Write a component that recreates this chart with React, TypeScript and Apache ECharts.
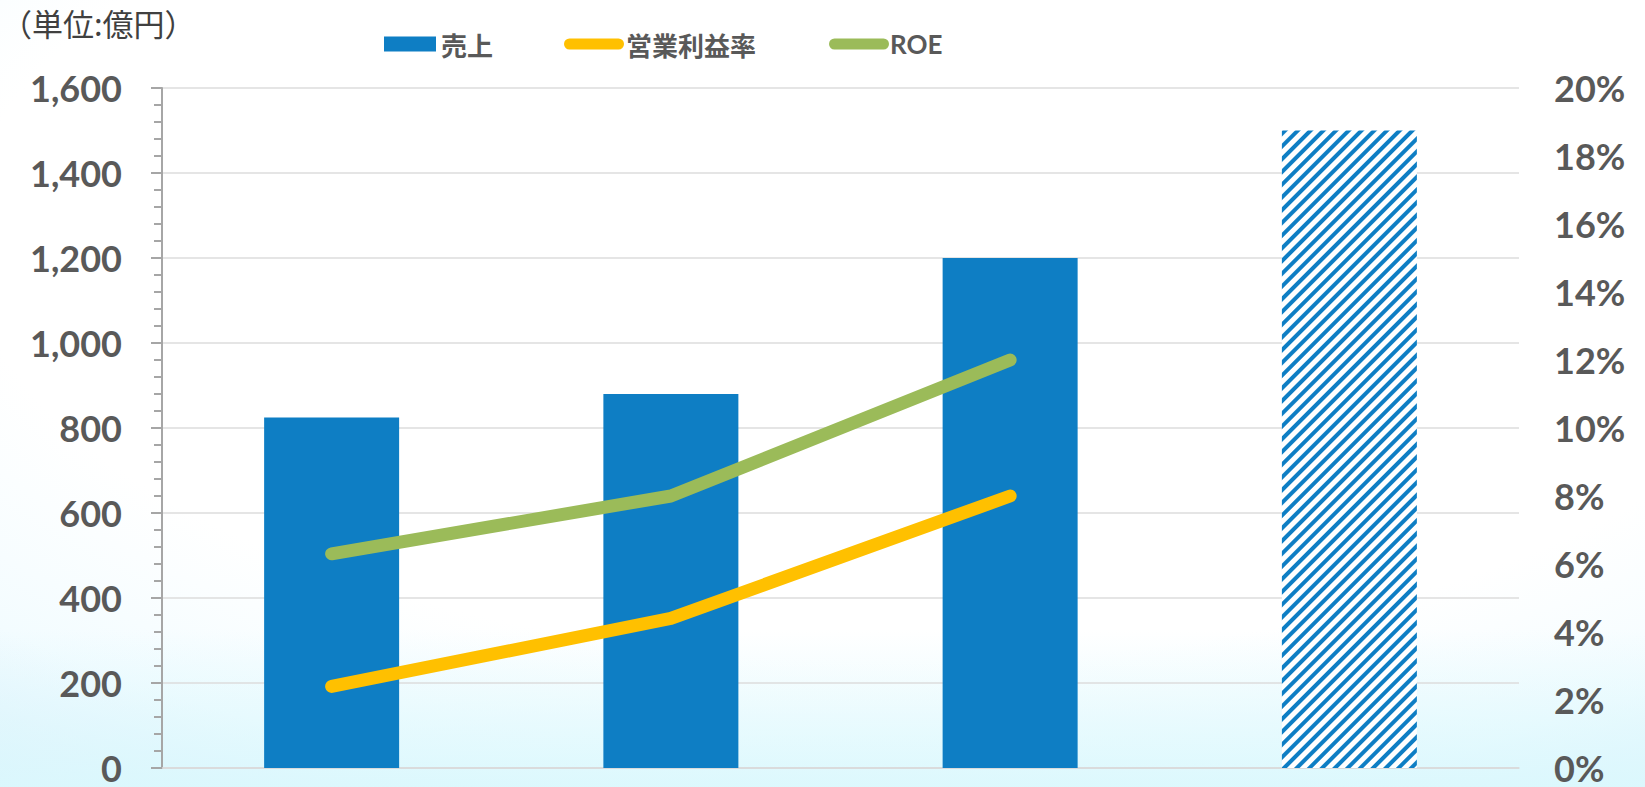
import React, { useEffect, useRef } from "react";
import * as echarts from "echarts";

const categories = ["1", "2", "3", "4"];
const salesValues = [825, 880, 1200, 1500];
const forecastFlags = [false, false, false, true];
const marginValues: (number | null)[] = [2.4, 4.4, 8.0, null];
const roeValues: (number | null)[] = [6.3, 8.0, 12.0, null];
const leftTicks = { min: 0, max: 1600, interval: 200 };
const rightTicks = { min: 0, max: 20, interval: 2 };
const seriesNames = ["売上", "営業利益率", "ROE"];
const unitLabel = "（単位:億円）";

const BLUE = "#0E7EC4";
const YELLOW = "#FFC000";
const GREEN = "#9BBB59";
const TEXT = "#595959";
const LATIN = "Lato, 'Noto Sans CJK JP', sans-serif";
const CJK = "'Noto Sans CJK JP', Lato, sans-serif";

const capsule = "path://M5.5,0 L54.5,0 A5.5,5.5 0 0 1 54.5,11 L5.5,11 A5.5,5.5 0 0 1 5.5,0 Z";

export default function App() {
  const ref = useRef<HTMLDivElement>(null);
  useEffect(() => {
    if (!ref.current) return;
    const chart = echarts.init(ref.current, undefined, { renderer: "svg" });
    const legendText = {
      color: TEXT,
      fontSize: 26,
      fontWeight: "bold" as const,
      fontFamily: CJK,
      lineHeight: 28,
    };
    chart.setOption({
      animation: false,
      backgroundColor: "transparent",
      title: {
        text: unitLabel,
        left: -4,
        top: 2,
        textStyle: { color: "#404040", fontSize: 31, fontWeight: "normal", fontFamily: CJK },
      },
      legend: [
        {
          data: [{ name: seriesNames[0], icon: "rect" }],
          left: 379,
          top: 25,
          itemWidth: 52,
          itemHeight: 15,
          itemGap: 0,
          textStyle: { ...legendText, padding: [0, 0, 0, 0] },
        },
        {
          data: [{ name: seriesNames[1], icon: capsule }],
          left: 559,
          top: 25,
          itemWidth: 60,
          itemHeight: 11,
          itemStyle: { color: YELLOW },
          textStyle: { ...legendText, padding: [0, 0, 0, -3] },
        },
        {
          data: [{ name: seriesNames[2], icon: capsule }],
          left: 824,
          top: 25,
          itemWidth: 60,
          itemHeight: 11,
          itemStyle: { color: GREEN },
          textStyle: { ...legendText, fontFamily: LATIN, padding: [0, 0, 0, -4] },
        },
      ],
      grid: { left: 162, right: 126, top: 88, bottom: 19, containLabel: false },
      xAxis: {
        type: "category",
        data: categories,
        axisLine: { show: true, lineStyle: { color: "#d9d9d9", width: 1.5 } },
        axisTick: { show: false },
        axisLabel: { show: false },
        splitLine: { show: false },
      },
      yAxis: [
        {
          type: "value",
          min: leftTicks.min,
          max: leftTicks.max,
          interval: leftTicks.interval,
          axisLine: { show: true, lineStyle: { color: "#a6a6a6", width: 2 } },
          axisTick: { show: true, inside: false, length: 11, lineStyle: { color: "#a6a6a6", width: 2 } },
          minorTick: { show: true, splitNumber: 5, length: 8, lineStyle: { color: "#a6a6a6", width: 2 } },
          axisLabel: {
            margin: 40,
            color: TEXT,
            fontSize: 36,
            lineHeight: 26,
            fontWeight: "bold",
            fontFamily: LATIN,
            formatter: (v: number) => v.toLocaleString("en-US"),
          },
          splitLine: { show: true, lineStyle: { color: "#dcdcdc", width: 1.5 } },
        },
        {
          type: "value",
          min: rightTicks.min,
          max: rightTicks.max,
          interval: rightTicks.interval,
          position: "right",
          axisLine: { show: false },
          axisTick: { show: false },
          axisLabel: {
            margin: 35,
            color: TEXT,
            fontSize: 36,
            lineHeight: 26,
            fontWeight: "bold",
            fontFamily: LATIN,
            formatter: (v: number) => v + "%",
          },
          splitLine: { show: false },
        },
      ],
      series: [
        {
          name: seriesNames[0],
          type: "bar",
          barWidth: 135,
          itemStyle: { color: BLUE },
          data: salesValues.map((v, i) =>
            forecastFlags[i]
              ? {
                  value: v,
                  itemStyle: {
                    color: "#ffffff",
                    decal: {
                      symbol: "rect",
                      symbolSize: 1,
                      color: BLUE,
                      backgroundColor: "#ffffff",
                      dashArrayX: [1, 0],
                      dashArrayY: [4, 4.5],
                      rotation: -Math.PI / 4,
                    },
                  },
                }
              : v
          ),
          z: 2,
        },
        {
          name: seriesNames[1],
          type: "line",
          yAxisIndex: 1,
          data: marginValues,
          symbol: "none",
          lineStyle: { color: YELLOW, width: 13, cap: "round", join: "round" },
          itemStyle: { color: YELLOW },
          z: 3,
        },
        {
          name: seriesNames[2],
          type: "line",
          yAxisIndex: 1,
          data: roeValues,
          symbol: "none",
          lineStyle: { color: GREEN, width: 13, cap: "round", join: "round" },
          itemStyle: { color: GREEN },
          z: 3,
        },
      ],
    });
    return () => chart.dispose();
  }, []);
  return (
    <div
      style={{
        position: "absolute",
        left: 0,
        top: 0,
        width: 1645,
        height: 787,
        background:
          "linear-gradient(to bottom, rgba(255,255,255,0) 80%, rgba(218,248,253,0.9) 100%), radial-gradient(ellipse 95% 90% at 55% 30%, #ffffff 60%, #f3fcff 80%, #dcedfa 100%)",
      }}
    >
      <div ref={ref} style={{ width: 1645, height: 787 }} />
    </div>
  );
}
